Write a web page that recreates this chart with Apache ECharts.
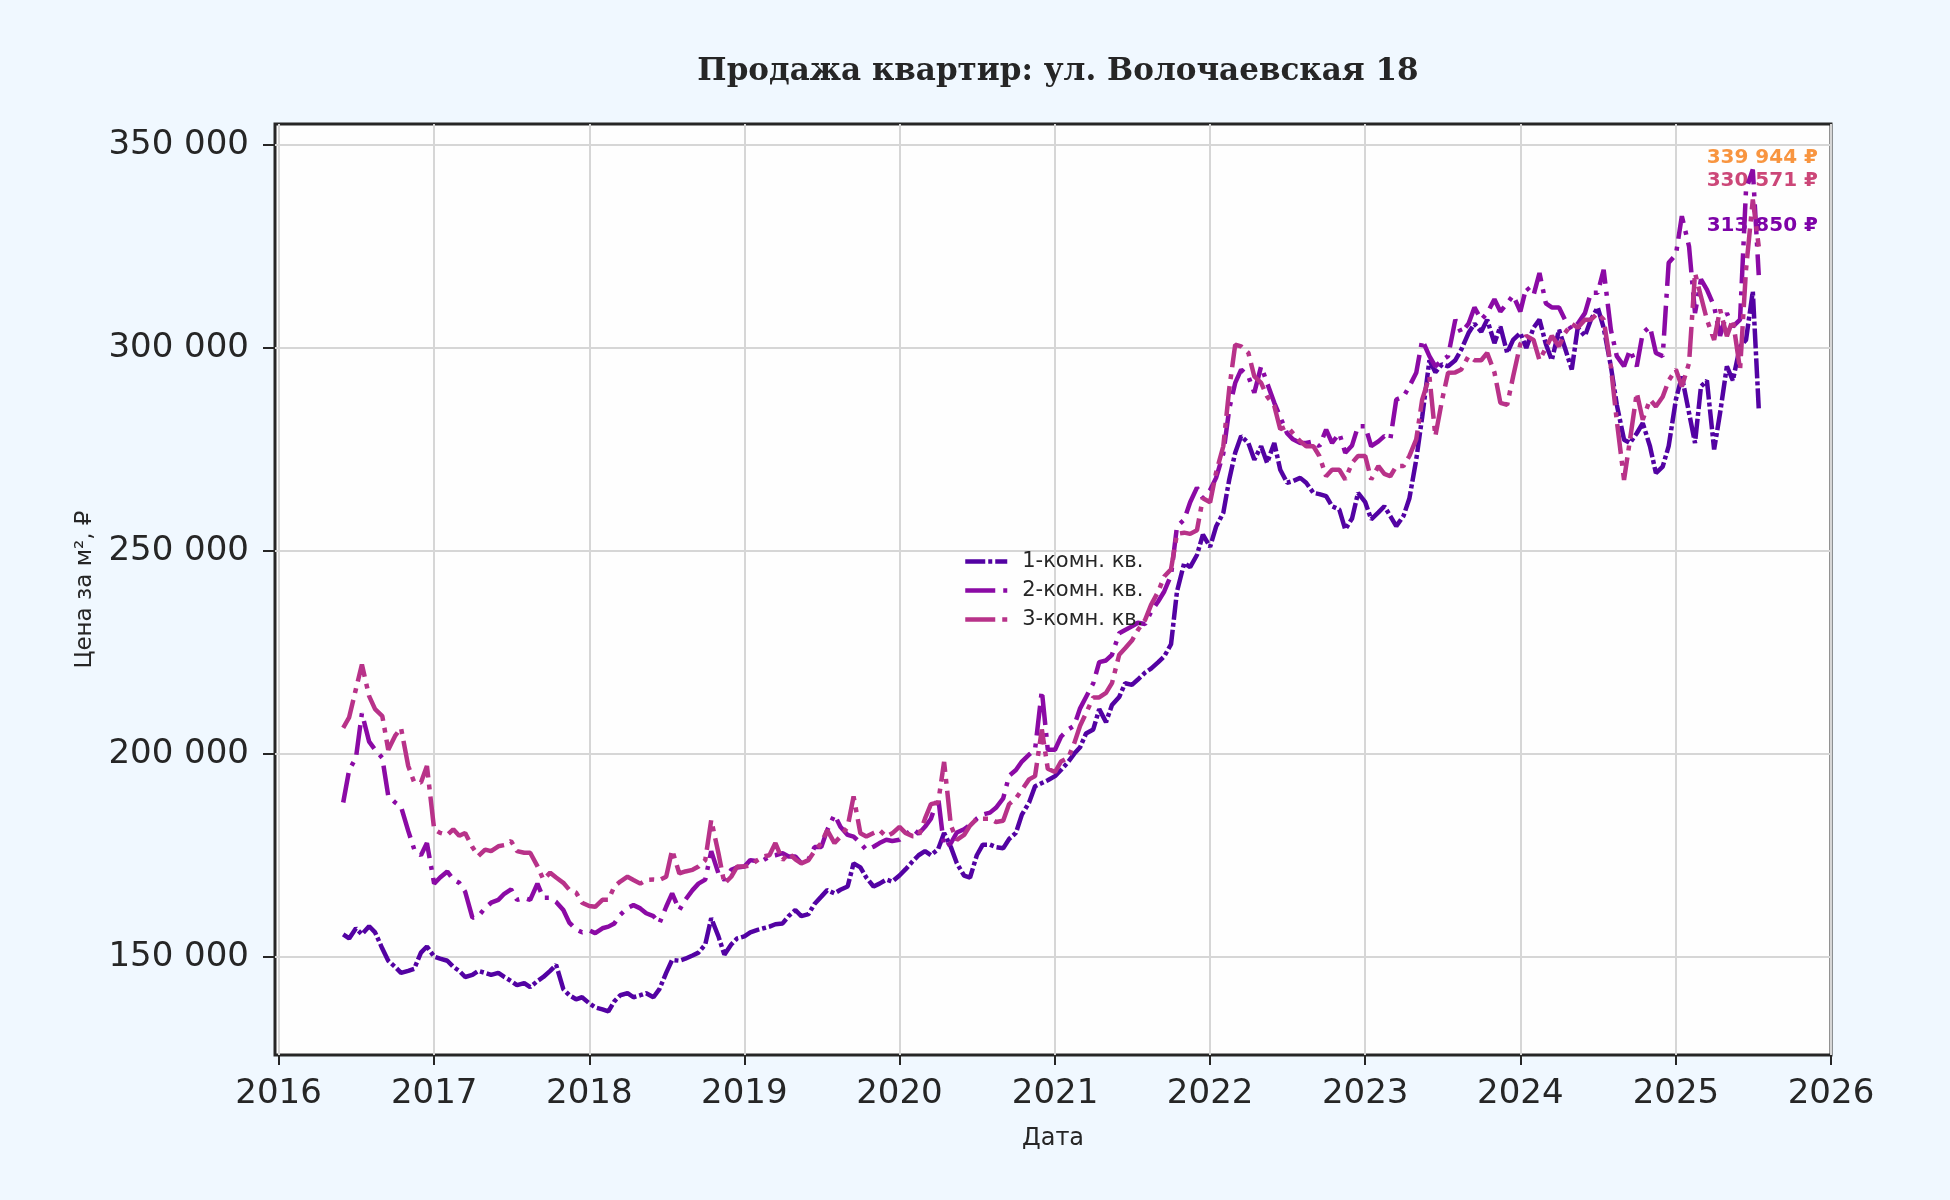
<!DOCTYPE html>
<html>
<head>
<meta charset="utf-8">
<title>Продажа квартир: ул. Волочаевская 18</title>
<script src="https://cdn.jsdelivr.net/npm/echarts@6.0.0/dist/echarts.min.js"></script>
<style>
	html, body {margin: 0; padding: 0; background: #f0f8ff;}
	#chart {width: 1950px; height: 1200px;}
</style>
</head>
<body>
<div id="chart"></div>
<script>
var _$ = function(_id){return document.getElementById(_id)};

// семплы раз в полмесяца: 1-е и 15-е число, с 2016-06-01 по 2025-07-15
var FIRST_MONTH = '2016-06';
var LAST_MONTH = '2025-07';

// цена за м², тыс. ₽ (строка = год; 2016 и 2025 неполные)
var oneRoom = [
	155.5, 154.5, 157, 155.5, 157.5, 156, 152, 149, 147.5, 146, 146.5, 147, 151, 152.5,
	150, 149.5, 149, 147.5, 146.5, 145, 145.5, 146.5, 146, 145.5, 146, 145, 144, 143, 143.5, 142.5, 144, 145, 146.5, 148, 142, 140.5, 139.5, 140,
	138.5, 137.5, 137, 136.5, 139, 140.5, 141, 140, 140.5, 141, 140, 142, 146, 149.2, 149, 149.5, 150.3, 151, 153, 159.5, 155, 150.5, 153, 154.5,
	155, 156, 156.6, 157, 157.4, 158, 158.2, 160, 161.5, 160, 160.5, 163, 164.8, 166.4, 165.6, 166.5, 167.3, 173, 172, 169.5, 167.3, 168, 169, 168.5,
	170, 171.5, 173.5, 175, 176, 175, 176.5, 180.5, 177, 173, 170, 169.5, 175, 177.6, 177.6, 177, 176.7, 179, 180.5, 185, 188, 192, 192.8, 193.5,
	194.5, 196, 198, 200, 201.6, 205, 206, 211, 207.8, 212, 214, 217.4, 217, 218.3, 220, 221, 222.6, 224, 227, 240, 247, 246, 249, 254,
	251, 256, 259.4, 267.6, 274.2, 278.3, 276.6, 272.5, 275.8, 271.7, 276.6, 270, 266.8, 267.2, 268, 266.8, 264.3, 264, 263.5, 261, 260.2, 255.3, 258, 264.3,
	262, 257.8, 259.5, 261, 258.6, 256.1, 258.6, 263, 272.5, 283, 297, 294, 296, 295.5, 297, 299.6, 303.7, 306, 304, 307, 301.2, 305.3, 298.8, 302,
	303.7, 300, 305, 307, 301, 297, 304.5, 300, 294.7, 305, 303, 307, 310, 305, 295.5, 286, 277.4, 276.6, 279, 281.5, 275.8, 269.2, 270.8, 275.8,
	287.3, 293, 284, 276.6, 290.5, 292, 275, 284, 295.5, 292, 300.4, 302, 314, 285
];
var twoRoom = [
	188, 196, 199, 210, 203, 201, 199, 189.6, 188, 187, 181, 176.5, 175, 178,
	168, 169.5, 171, 169, 168.2, 166, 159.6, 160, 162, 163.3, 164, 165.5, 166.6, 164, 164.5, 164, 168, 164.5, 164.5, 163.5, 161.5, 158.4, 156.7, 156,
	156.5, 155.8, 157, 157.4, 158.2, 160.3, 162, 162.7, 161.9, 160.7, 160, 158.2, 162.3, 165.6, 161.5, 164, 166.4, 168, 169, 176, 170.5, 168.9, 171.4, 172,
	172.2, 173.8, 173.5, 173.8, 174.7, 175, 175.5, 174.7, 174.7, 173, 174, 177, 177, 181.2, 185, 182, 180, 179.6, 178, 176.3, 177.1, 178, 178.8, 178.5,
	178.8, 180, 181.5, 180.3, 182, 184, 189.3, 177, 178, 180.6, 181.4, 182.5, 184, 185, 185.5, 186.7, 189, 194.6, 196, 198.1, 199.8, 201, 215.6, 201,
	201, 204.2, 206, 206.9, 211.2, 214, 217.4, 222.6, 223, 224.4, 229.7, 230.5, 231.4, 232.3, 232, 235, 237.6, 240, 244, 256, 257.7, 262, 265.6, 263,
	265, 268, 274, 285, 291.4, 294.7, 293, 289, 295.5, 291.4, 286.5, 283, 279, 277.5, 276.6, 276.6, 277, 275.8, 279.9, 276.6, 279, 274.2, 276, 280.7,
	280.7, 275.8, 277, 278.3, 277.5, 287.3, 288, 290.6, 293.9, 302, 298, 295.5, 297, 298, 307, 303.7, 306, 310, 307, 308.6, 312, 309, 311, 313,
	309, 315, 313, 318.5, 311, 310, 310, 307, 304.5, 306, 308.6, 313.6, 313.6, 319.3, 304.5, 298, 295.5, 299.6, 295.5, 303.7, 305.3, 298.8, 298, 321,
	323, 332.5, 325, 308.6, 316.9, 314.4, 310.3, 303, 308.6, 305.3, 307, 339, 344, 318
];
var threeRoom = [
	206.4, 209, 216, 222, 214.2, 211, 209.3, 201, 204.4, 206.4, 197, 193, 192.9, 197,
	181.4, 180.5, 180, 181.4, 179.8, 180.5, 177, 174.8, 176.4, 176, 177.2, 177.5, 178.5, 176, 175.6, 175.6, 172.3, 169, 170.7, 169.5, 168.2, 166.5, 165.8, 163.3,
	162.5, 162.3, 164, 164, 167.3, 168.5, 169.7, 168.9, 168, 168.9, 169, 168.9, 169.7, 176.3, 170.5, 171, 171.4, 172.2, 173.8, 183.7, 175.5, 168, 169.7, 172.2,
	172.2, 172.5, 173.8, 174.7, 175, 178, 173.8, 175.5, 174, 173, 173.8, 176, 178, 181.2, 178, 179.6, 182, 189.5, 180.4, 179.6, 180.5, 181.2, 179.6, 180.4,
	182, 180.5, 179.7, 179.7, 184, 187.6, 188, 198, 182.3, 178.8, 180, 182.3, 184, 184, 184, 183.2, 183.5, 187.6, 189, 191.1, 193.7, 194.5, 206, 196.3,
	195.5, 198.1, 199, 202.5, 206.9, 210, 213.9, 213.9, 215, 217.4, 224.4, 226, 227.9, 230.5, 233, 236.7, 240, 243.7, 245.5, 254.2, 254.5, 254.2, 255.1, 263,
	262, 269.3, 275.8, 290, 300.8, 300.4, 298.8, 293, 291.4, 288.1, 285.7, 280, 280.7, 279, 277, 275.8, 275.8, 273.4, 268.4, 270, 270, 267.6, 271.7, 273.4,
	273.4, 267.6, 270.9, 269, 268.4, 270.9, 270.9, 273.4, 277.5, 287.3, 293, 278.3, 287.3, 293.9, 294, 294.7, 298, 297, 297, 298.8, 294, 286.5, 286, 293,
	301, 303, 302, 297, 300, 303, 300.4, 303.7, 306, 305, 307, 307, 308.6, 307, 295.5, 282, 267.5, 277.4, 289, 282.3, 287.3, 285.6, 288, 292,
	294.7, 290.5, 296.3, 318.5, 312.7, 307, 302, 309.5, 302.9, 307, 294.7, 319.3, 336.6, 325
];

var seriesNames = ['1-комн. кв.', '2-комн. кв.', '3-комн. кв.'];
var tickYears = [2016, 2017, 2018, 2019, 2020, 2021, 2022, 2023, 2024, 2025, 2026];
var priceTicks = [150000, 200000, 250000, 300000, 350000];
var endLabels = ['339 944 ₽', '330 571 ₽', '313 850 ₽'];

function pad(n){return n < 10 ? '0' + n : '' + n}

// ось X числовая, в миллисекундах; год -> метка 1 января
function yearStart(y){return new Date(y, 0, 1).getTime()}

function makeDates(){
	var y = +FIRST_MONTH.slice(0, 4), m = +FIRST_MONTH.slice(5, 7);
	var out = [];
	while(true){
		out.push(new Date(y, m - 1, 1).getTime());
		out.push(new Date(y, m - 1, 15).getTime());
		if(y + '-' + pad(m) == LAST_MONTH) break;
		m++;
		if(m > 12){m = 1; y++;}
	}
	return out;
}

function toPoints(dates, arr){
	var pts = [];
	for(var i = 0; i < arr.length && i < dates.length; i++){
		pts.push([dates[i], Math.round(arr[i] * 1000)]);
	}
	return pts;
}

function fmtThousands(v){
	return String(Math.round(v)).replace(/\B(?=(\d{3})+(?!\d))/g, ' ');
}

function drawChart(){
	var dates = makeDates();
	var myChart = echarts.init(_$('chart'), null, {renderer: 'canvas'});
	var ink = '#262626';
	var colors = ['#5302a3', '#8b0aa5', '#b83289'];
	var dashes = [[20, 3, 4, 3], [30, 8, 4, 8], [30, 7, 5, 7]];
	var values = [oneRoom, twoRoom, threeRoom];
	var xTicks = tickYears.map(yearStart);

	var series = [];
	for(var k = 0; k < 3; k++){
		series.push({
			name: seriesNames[k],
			type: 'line',
			symbol: 'none',
			showSymbol: false,
			data: toPoints(dates, values[k]),
			lineStyle: {color: colors[k], width: 4.5, type: dashes[k]},
			itemStyle: {color: colors[k]}
		});
	}

	var option = {
		backgroundColor: '#f0f8ff',
		animation: false,
		textStyle: {fontFamily: 'DejaVu Sans'},
		title: {
			text: 'Продажа квартир: ул. Волочаевская 18',
			left: 1053,
			top: 51,
			textAlign: 'center',
			textStyle: {fontFamily: 'DejaVu Serif', fontWeight: 'bold', fontSize: 31, color: ink}
		},
		legend: {
			orient: 'vertical',
			left: 958,
			top: 546,
			itemWidth: 42,
			itemHeight: 14,
			itemGap: 8,
			data: seriesNames,
			itemStyle: {opacity: 0},
			lineStyle: {width: 4.5},
			textStyle: {fontSize: 21, color: ink, padding: [0, 0, 0, 10]}
		},
		grid: {
			left: 275, right: 119, top: 124, bottom: 145,
			show: true,
			backgroundColor: '#fefefe',
			borderColor: ink,
			borderWidth: 3
		},
		xAxis: {
			type: 'value',
			min: new Date(2015, 11, 23, 12).getTime(),
			max: yearStart(2026),
			name: 'Дата',
			nameLocation: 'middle',
			nameGap: 72,
			nameTextStyle: {fontSize: 24, color: ink},
			axisLine: {show: false},
			axisTick: {show: true, length: 10, lineStyle: {color: ink, width: 2}, customValues: xTicks},
			axisLabel: {
				customValues: xTicks,
				fontSize: 34, color: ink, margin: 22,
				formatter: function(v){return '' + new Date(v).getFullYear()}
			},
			splitLine: {show: true, lineStyle: {color: '#d6d6d6', width: 2}}
		},
		yAxis: {
			type: 'value',
			min: 125767,
			max: 355215,
			name: 'Цена за м², ₽',
			nameLocation: 'middle',
			nameGap: 178,
			nameRotate: 90,
			nameTextStyle: {fontSize: 23, color: ink},
			axisLine: {show: false},
			axisTick: {show: true, length: 12, lineStyle: {color: ink, width: 2}, customValues: priceTicks},
			axisLabel: {
				customValues: priceTicks,
				fontSize: 34, color: ink, margin: 26,
				formatter: fmtThousands
			},
			splitLine: {show: true, lineStyle: {color: '#d6d6d6', width: 2}}
		},
		graphic: [
			{type: 'text', right: 132, top: 148, style: {text: endLabels[0], fill: '#f89540', font: 'bold 20px "DejaVu Sans"'}},
			{type: 'text', right: 132, top: 171, style: {text: endLabels[1], fill: '#cc4778', font: 'bold 20px "DejaVu Sans"'}},
			{type: 'text', right: 132, top: 216, style: {text: endLabels[2], fill: '#7e03a8', font: 'bold 20px "DejaVu Sans"'}}
		],
		series: series
	};
	myChart.setOption(option);
}

window.addEventListener('load', drawChart);
</script>
</body>
</html>
